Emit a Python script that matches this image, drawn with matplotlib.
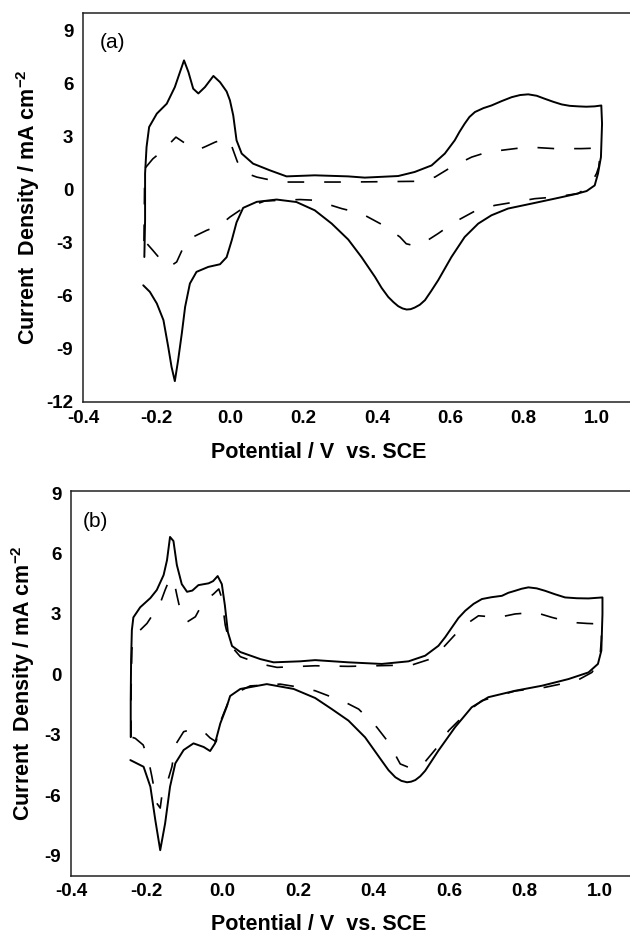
import numpy as np
import matplotlib.pyplot as plt

plt.rcParams['font.family'] = ['Liberation Sans', 'DejaVu Sans']
plt.rcParams['axes.unicode_minus'] = False
plt.rcParams['mathtext.fontset'] = 'custom'
plt.rcParams['mathtext.bf'] = 'Liberation Sans:bold'
plt.rcParams['mathtext.rm'] = 'Liberation Sans'

# cyclic voltammograms as (potential / V vs. SCE, current density / mA cm^-2)
# panel (a), solid curve
a_solid = [(-0.233, -3.80), (-0.231, -1.72), (-0.231, 0.92), (-0.227, 2.42), (-0.220, 3.55),
           (-0.199, 4.31), (-0.172, 4.87), (-0.150, 5.81), (-0.136, 6.66), (-0.125, 7.32),
           (-0.113, 6.66), (-0.100, 5.72), (-0.086, 5.45), (-0.068, 5.81), (-0.045, 6.44),
           (-0.027, 6.09), (-0.009, 5.56), (0.000, 5.06), (0.009, 4.21), (0.018, 2.80),
           (0.032, 2.05), (0.063, 1.48), (0.109, 1.10), (0.154, 0.76), (0.231, 0.82),
           (0.322, 0.76), (0.367, 0.69), (0.458, 0.78), (0.503, 1.01), (0.549, 1.38),
           (0.585, 2.05), (0.612, 2.80), (0.625, 3.28), (0.639, 3.74), (0.652, 4.12),
           (0.667, 4.40), (0.690, 4.62), (0.712, 4.77), (0.740, 5.02), (0.767, 5.24),
           (0.790, 5.36), (0.812, 5.40), (0.835, 5.32), (0.857, 5.15), (0.880, 4.98),
           (0.903, 4.83), (0.925, 4.75), (0.948, 4.72), (0.970, 4.70), (0.993, 4.72),
           (1.011, 4.77), (1.013, 3.74), (1.010, 1.85), (1.002, 0.92), (0.993, 0.25),
           (0.971, -0.07), (0.939, -0.25), (0.884, -0.50), (0.821, -0.78), (0.757, -1.06),
           (0.712, -1.44), (0.676, -1.91), (0.639, -2.67), (0.603, -3.80), (0.567, -5.11),
           (0.548, -5.72), (0.531, -6.24), (0.517, -6.50), (0.503, -6.66), (0.492, -6.75),
           (0.481, -6.77), (0.470, -6.71), (0.458, -6.58), (0.445, -6.35), (0.431, -6.06),
           (0.413, -5.55), (0.395, -4.93), (0.358, -3.80), (0.322, -2.81), (0.277, -1.91),
           (0.231, -1.16), (0.181, -0.69), (0.127, -0.55), (0.073, -0.68), (0.036, -1.02),
           (0.018, -1.84), (0.005, -2.85), (-0.009, -3.81), (-0.027, -4.21), (-0.059, -4.36),
           (-0.091, -4.64), (-0.109, -5.30), (-0.122, -6.62), (-0.131, -8.12), (-0.141, -9.63),
           (-0.150, -10.82), (-0.159, -10.01), (-0.168, -8.88), (-0.181, -7.37), (-0.199, -6.43),
           (-0.218, -5.77), (-0.236, -5.40)]

# panel (a), dashed curve
a_dash = [(-0.234, -2.90), (-0.233, -1.00), (-0.232, 1.20), (-0.210, 1.75), (-0.182, 2.23),
          (-0.147, 2.98), (-0.127, 2.70), (-0.107, 2.46), (-0.086, 2.27), (-0.065, 2.46),
          (-0.040, 2.70), (-0.011, 2.89), (0.000, 2.75), (0.009, 2.23), (0.020, 1.60),
          (0.036, 1.00), (0.073, 0.72), (0.136, 0.44), (0.231, 0.44), (0.322, 0.44),
          (0.503, 0.48), (0.558, 0.72), (0.603, 1.29), (0.658, 1.85), (0.702, 2.14),
          (0.776, 2.33), (0.811, 2.42), (0.884, 2.33), (0.957, 2.33), (1.001, 2.36),
          (1.007, 1.85), (1.004, 1.29), (0.998, 0.92), (0.980, 0.25), (0.948, -0.21),
          (0.884, -0.41), (0.830, -0.50), (0.776, -0.69), (0.721, -0.88), (0.667, -1.20),
          (0.612, -1.82), (0.567, -2.47), (0.531, -2.95), (0.503, -3.17), (0.480, -3.05),
          (0.463, -2.67), (0.417, -2.00), (0.358, -1.34), (0.304, -1.06), (0.267, -0.82),
          (0.231, -0.59), (0.190, -0.55), (0.095, -0.63), (0.027, -1.16), (0.000, -1.54),
          (-0.027, -2.00), (-0.063, -2.29), (-0.091, -2.57), (-0.118, -2.85), (-0.145, -4.08),
          (-0.165, -4.36), (-0.183, -4.08), (-0.210, -3.42), (-0.234, -2.85)]

# panel (b), solid curve
b_solid = [(-0.242, -3.11), (-0.242, -1.27), (-0.241, 0.71), (-0.239, 2.20), (-0.235, 2.83),
           (-0.217, 3.33), (-0.190, 3.79), (-0.173, 4.19), (-0.155, 4.93), (-0.146, 5.67),
           (-0.138, 6.82), (-0.129, 6.62), (-0.120, 5.43), (-0.107, 4.48), (-0.093, 4.10),
           (-0.079, 4.16), (-0.063, 4.43), (-0.036, 4.52), (-0.024, 4.63), (-0.012, 4.88),
           (-0.001, 4.48), (0.007, 3.44), (0.015, 2.10), (0.026, 1.41), (0.048, 1.11),
           (0.101, 0.76), (0.136, 0.60), (0.206, 0.65), (0.246, 0.71), (0.334, 0.60),
           (0.422, 0.52), (0.493, 0.65), (0.537, 0.93), (0.572, 1.42), (0.590, 1.85),
           (0.608, 2.34), (0.625, 2.80), (0.643, 3.16), (0.665, 3.50), (0.687, 3.74),
           (0.712, 3.83), (0.740, 3.90), (0.757, 4.05), (0.775, 4.15), (0.792, 4.25),
           (0.810, 4.32), (0.832, 4.27), (0.854, 4.15), (0.880, 3.98), (0.907, 3.82),
           (0.938, 3.78), (0.969, 3.77), (1.006, 3.82), (1.006, 3.00), (1.003, 1.18),
           (0.994, 0.52), (0.969, 0.10), (0.916, -0.23), (0.846, -0.56), (0.775, -0.81),
           (0.704, -1.13), (0.660, -1.63), (0.616, -2.62), (0.572, -3.78), (0.537, -4.78),
           (0.524, -5.05), (0.511, -5.24), (0.500, -5.32), (0.489, -5.35), (0.474, -5.28),
           (0.458, -5.10), (0.440, -4.75), (0.422, -4.28), (0.400, -3.70), (0.378, -3.12),
           (0.334, -2.29), (0.290, -1.72), (0.246, -1.17), (0.189, -0.72), (0.118, -0.48),
           (0.048, -0.72), (0.021, -1.07), (0.012, -1.60), (-0.005, -2.43), (-0.019, -3.42),
           (-0.032, -3.80), (-0.049, -3.60), (-0.076, -3.42), (-0.102, -3.75), (-0.124, -4.41),
           (-0.138, -5.57), (-0.151, -7.39), (-0.164, -8.72), (-0.177, -7.22), (-0.190, -5.57),
           (-0.208, -4.58), (-0.243, -4.25)]

# panel (b), dashed curve
b_dash = [(-0.241, -3.11), (-0.241, -0.77), (-0.239, 1.21), (-0.235, 1.87), (-0.199, 2.53),
          (-0.164, 3.53), (-0.151, 4.19), (-0.138, 4.78), (-0.127, 4.58), (-0.120, 3.94),
          (-0.107, 2.86), (-0.093, 2.60), (-0.071, 2.86), (-0.050, 3.59), (-0.023, 3.99),
          (-0.009, 4.24), (-0.001, 3.79), (0.008, 2.45), (0.021, 1.46), (0.048, 0.88),
          (0.101, 0.52), (0.145, 0.35), (0.246, 0.43), (0.334, 0.40), (0.502, 0.47),
          (0.550, 0.76), (0.585, 1.34), (0.634, 2.34), (0.678, 2.91), (0.731, 2.83),
          (0.775, 3.00), (0.828, 3.08), (0.872, 2.83), (0.925, 2.58), (0.965, 2.53),
          (1.004, 2.50), (1.003, 1.71), (1.000, 1.01), (0.989, 0.42), (0.978, 0.10),
          (0.938, -0.31), (0.854, -0.64), (0.775, -0.82), (0.687, -1.30), (0.652, -1.80),
          (0.599, -2.79), (0.572, -3.54), (0.528, -4.53), (0.497, -4.64), (0.471, -4.44),
          (0.440, -3.37), (0.409, -2.62), (0.361, -1.72), (0.317, -1.30), (0.281, -1.06),
          (0.246, -0.81), (0.206, -0.64), (0.153, -0.48), (0.074, -0.57), (0.042, -0.87),
          (0.016, -1.37), (-0.005, -2.36), (-0.016, -3.34), (-0.032, -3.15), (-0.049, -2.84),
          (-0.077, -2.71), (-0.102, -2.84), (-0.124, -3.50), (-0.133, -4.58), (-0.146, -5.40),
          (-0.160, -6.07), (-0.164, -6.63), (-0.173, -6.39), (-0.186, -5.07), (-0.195, -4.25),
          (-0.209, -3.50), (-0.230, -3.17), (-0.243, -3.09)]

x_ticks = [-0.4, -0.2, 0.0, 0.2, 0.4, 0.6, 0.8, 1.0]

W, H = 630, 934
fig = plt.figure(figsize=(W / 100, H / 100), dpi=100)


def px_axes(left, top, right, bottom):
    return fig.add_axes([left / W, 1 - bottom / H, (right - left) / W, (bottom - top) / H])


panels = [
    # axes box in pixels (the right edge runs past the figure), y-limits, ticks, curves, tag
    dict(box=(83, 13, 634, 402), ylim=(-12, 10), yticks=range(-12, 10, 3),
         solid=a_solid, dash=a_dash, tag='(a)', tag_xy=(0.031, 0.923),
         xl=(319, 453), yl=28, xpad=6),
    dict(box=(71, 491, 638, 876), ylim=(-10, 9.1), yticks=range(-9, 10, 3),
         solid=b_solid, dash=b_dash, tag='(b)', tag_xy=(0.021, 0.922),
         xl=(319, 925), yl=23, xpad=5),
]

for p in panels:
    left, top, right, bottom = p['box']
    ax = px_axes(left, top, right, bottom)
    sv, sj = np.array(p['solid']).T
    dv, dj = np.array(p['dash']).T
    ax.plot(sv, sj, color='black', lw=1.4, solid_joinstyle='round', solid_capstyle='round')
    ax.plot(dv, dj, color='black', lw=1.2, linestyle=(0, (10, 12)))
    ax.set_xlim(-0.4, 1.1)
    ax.set_ylim(*p['ylim'])
    ax.set_xticks(x_ticks)
    ax.set_xticklabels([f'{t:.1f}' for t in x_ticks])
    ax.set_yticks(list(p['yticks']))
    ax.set_yticklabels([str(t) for t in p['yticks']])
    ax.tick_params(length=0, labelsize=13.5)
    ax.tick_params(axis='x', pad=p['xpad'])
    ax.tick_params(axis='y', pad=7)
    for lab in ax.get_xticklabels() + ax.get_yticklabels():
        lab.set_fontweight('bold')
    for s in ax.spines.values():
        s.set_linewidth(1.1)
        s.set_color('#222222')
    ax.text(*p['tag_xy'], p['tag'], transform=ax.transAxes,
            fontsize=15, va='center', ha='left')

    xl_x, xl_y = p['xl']
    ax.set_xlabel('Potential / V  vs. SCE', fontsize=15.5, fontweight='bold')
    ax.xaxis.set_label_coords((xl_x - left) / (right - left), (bottom - xl_y) / (bottom - top))
    ax.xaxis.label.set_va('center')
    ax.set_ylabel(r'Current  Density / mA cm$^{\mathbf{-2}}$', fontsize=15.5, fontweight='bold')
    ax.yaxis.set_label_coords((p['yl'] - left) / (right - left), 0.5)
    ax.yaxis.label.set_va('center')

fig.savefig('out.png', dpi=100)
